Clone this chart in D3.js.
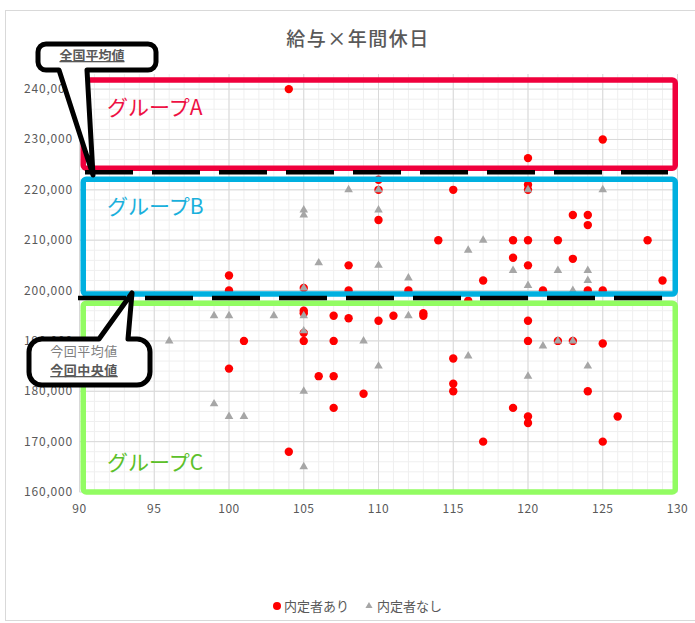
<!DOCTYPE html>
<html>
<head>
<meta charset="utf-8">
<script src="https://cdn.jsdelivr.net/npm/d3@7"></script>
<style>
  body { margin: 0; background: #fff; }
  svg { font-family: "Noto Sans CJK JP", "Noto Sans", sans-serif; }
</style>
</head>
<body>
<div class="chart"></div>
<script>
// data
var offerX = [104,125,120,110,110,115,120,120,110,123,124,124,114,119,120,122,128,119,123,120,108,100,117,129,100,105,108,112,121,124,125,116,
  105,105,105,105,107,108,110,111,113,113,120,101,107,120,122,123,125,115,100,106,107,115,115,124,109,107,119,126,120,120,117,125,104];
var offerY = [240000,230000,226300,222000,220000,220000,221000,220000,214000,215000,215000,213000,210000,210000,210000,210000,210000,206500,206300,205000,205000,203000,202000,202000,200000,200500,200000,200000,200000,200000,200000,198000,
  196000,195500,191600,190000,195000,194500,194000,195000,195500,195000,194000,190000,190000,190000,190000,190000,189500,186500,184500,183000,183000,181500,180000,180000,179500,176700,176700,175000,175000,173700,170000,170000,168000];

var noOfferX = [110,120,125,108,105,105,110,106,110,117,116,119,122,124,112,124,120,123,105,99,100,103,105,112,105,96,109,122,123,121,116,110,124,120,105,99,100,101,105];
var noOfferY = [220000,220000,220000,220000,216000,215000,216000,205500,205000,210000,208000,204000,204000,204000,202500,202000,201000,200000,200500,195000,195000,195000,195000,195000,192000,190000,190000,190000,190000,189000,187000,185000,185000,183000,180000,177500,175000,175000,165000];

var xTicks = [90,95,100,105,110,115,120,125,130];
var yTicks = [160000,170000,180000,190000,200000,210000,220000,230000,240000];

var groupNames = ["グループA","グループB","グループC"];
var groupTop = [241800,222100,197500];
var groupBottom = [224300,199300,160000];
var nationalAvg = 223500;
var thisAvg = 198500;

var title = "給与×年間休日";
var seriesNames = ["内定者あり","内定者なし"];

///////////////////////////////////////////

var width = 695;
var height = 623;

var x = d3.scaleLinear().domain([90,130]).range([79.5,677.5]);
var y = d3.scaleLinear().domain([160000,243000]).range([492,74]);

var svg = d3.select(".chart").append("svg")
    .attr("width", width)
    .attr("height", height);

// chart frame
svg.append("rect")
    .attr("x", 5.5).attr("y", 10.5)
    .attr("width", 720).attr("height", 610)
    .attr("fill", "#fff")
    .attr("stroke", "#d9d9d9");

svg.append("text")
    .attr("x", 358).attr("y", 46)
    .attr("text-anchor", "middle")
    .attr("font-size", 19)
    .attr("font-weight", 500)
    .attr("letter-spacing", 1.5)
    .attr("fill", "#595959")
    .text(title);

// grid
var grid = svg.append("g");
grid.selectAll(".mx").data(d3.range(90,131,1)).enter().append("line")
    .attr("x1", d => x(d)).attr("x2", d => x(d))
    .attr("y1", y(160000)).attr("y2", y(243000))
    .attr("stroke", "#efefef");
grid.selectAll(".my").data(d3.range(160000,243001,2000)).enter().append("line")
    .attr("x1", x(90)).attr("x2", x(130))
    .attr("y1", d => y(d)).attr("y2", d => y(d))
    .attr("stroke", "#efefef");
grid.selectAll(".gx").data(xTicks).enter().append("line")
    .attr("x1", d => x(d)).attr("x2", d => x(d))
    .attr("y1", y(160000)).attr("y2", y(243000))
    .attr("stroke", "#d9d9d9");
grid.selectAll(".gy").data(yTicks).enter().append("line")
    .attr("x1", x(90)).attr("x2", x(130))
    .attr("y1", d => y(d)).attr("y2", d => y(d))
    .attr("stroke", "#d9d9d9");

// axis labels
svg.append("g").selectAll("text").data(yTicks).enter().append("text")
    .attr("x", 73).attr("y", d => y(d) + 4)
    .attr("text-anchor", "end")
    .attr("font-size", 12)
    .attr("letter-spacing", 0.8)
    .attr("fill", "#595959")
    .text(d3.format(","));
svg.append("g").selectAll("text").data(xTicks).enter().append("text")
    .attr("x", d => x(d)).attr("y", 513)
    .attr("text-anchor", "middle")
    .attr("font-size", 12)
    .attr("letter-spacing", 0.5)
    .attr("fill", "#595959")
    .text(d => d);

// points
svg.append("g").selectAll("circle").data(offerX).enter().append("circle")
    .attr("cx", d => x(d))
    .attr("cy", (d,i) => y(offerY[i]))
    .attr("r", 4.2)
    .attr("fill", "#ff0000");

var tri = d3.symbol().type(d3.symbolTriangle).size(32);
svg.append("g").selectAll("path").data(noOfferX).enter().append("path")
    .attr("d", tri)
    .attr("transform", (d,i) => "translate(" + x(d) + "," + y(noOfferY[i]) + ")")
    .attr("fill", "#a6a6a6");

// group boxes
var boxColor = ["#f0003c","#00b0e0","#92fc62"];
var textColor = ["#ee1144","#1ab0dc","#5cc02a"];
svg.append("g").selectAll("rect").data(groupNames).enter().append("rect")
    .attr("x", x(90.25))
    .attr("y", (d,i) => y(groupTop[i]))
    .attr("width", x(129.85) - x(90.25))
    .attr("height", (d,i) => y(groupBottom[i]) - y(groupTop[i]))
    .attr("rx", 3)
    .attr("fill", "none")
    .attr("stroke", (d,i) => boxColor[i])
    .attr("stroke-width", 5.5);

svg.append("g").selectAll("text").data(groupNames).enter().append("text")
    .attr("x", 107)
    .attr("y", (d,i) => [115, 214, 470][i])
    .attr("font-size", 21)
    .attr("fill", (d,i) => textColor[i])
    .text(d => d);

// average lines
svg.append("line")
    .attr("x1", 85).attr("x2", 668)
    .attr("y1", y(nationalAvg)).attr("y2", y(nationalAvg))
    .attr("stroke", "#000").attr("stroke-width", 4.5)
    .attr("stroke-dasharray", "48,19");
svg.append("line")
    .attr("x1", 78).attr("x2", 662)
    .attr("y1", y(thisAvg)).attr("y2", y(thisAvg))
    .attr("stroke", "#000").attr("stroke-width", 4.5)
    .attr("stroke-dasharray", "48,19");

// callouts
function callout(x0, y0, x1, y1, r, tail) {
  var p = d3.path();
  p.moveTo(x0 + r, y0);
  if (tail.side == "top") {
    p.lineTo(tail.a, y0); p.lineTo(tail.tx, tail.ty); p.lineTo(tail.b, y0);
  }
  p.lineTo(x1 - r, y0);
  p.arcTo(x1, y0, x1, y0 + r, r);
  p.lineTo(x1, y1 - r);
  p.arcTo(x1, y1, x1 - r, y1, r);
  if (tail.side == "bottom") {
    p.lineTo(tail.b, y1); p.lineTo(tail.tx, tail.ty); p.lineTo(tail.a, y1);
  }
  p.lineTo(x0 + r, y1);
  p.arcTo(x0, y1, x0, y1 - r, r);
  p.lineTo(x0, y0 + r);
  p.arcTo(x0, y0, x0 + r, y0, r);
  p.closePath();
  return p.toString();
}

svg.append("path")
    .attr("d", callout(38, 44, 156, 70, 8, {side: "bottom", a: 59, b: 87, tx: 93, ty: 175}))
    .attr("fill", "#fff").attr("stroke", "#000").attr("stroke-width", 5)
    .attr("stroke-linejoin", "round");
svg.append("text")
    .attr("x", 92).attr("y", 60)
    .attr("text-anchor", "middle")
    .attr("font-size", 13).attr("font-weight", "bold")
    .attr("fill", "#595959")
    .attr("text-decoration", "underline")
    .text("全国平均値");

svg.append("path")
    .attr("d", callout(29, 339, 150, 385, 13, {side: "top", a: 99, b: 128, tx: 132, ty: 293}))
    .attr("fill", "#fff").attr("stroke", "#000").attr("stroke-width", 5)
    .attr("stroke-linejoin", "round");
svg.append("text")
    .attr("x", 84).attr("y", 356)
    .attr("text-anchor", "middle")
    .attr("font-size", 13)
    .attr("letter-spacing", 0.5)
    .attr("fill", "#7f7f7f")
    .text("今回平均値");
svg.append("text")
    .attr("x", 84).attr("y", 375)
    .attr("text-anchor", "middle")
    .attr("font-size", 13).attr("font-weight", "bold")
    .attr("letter-spacing", 0.5)
    .attr("fill", "#595959")
    .attr("text-decoration", "underline")
    .text("今回中央値");

// legend
var legend = svg.append("g");
legend.append("circle").attr("cx", 277).attr("cy", 606).attr("r", 4).attr("fill", "#ff0000");
legend.append("text").attr("x", 284).attr("y", 611)
    .attr("font-size", 13).attr("fill", "#595959").text(seriesNames[0]);
legend.append("path").attr("d", d3.symbol().type(d3.symbolTriangle).size(22))
    .attr("transform", "translate(369,606)").attr("fill", "#a6a6a6");
legend.append("text").attr("x", 377).attr("y", 611)
    .attr("font-size", 13).attr("fill", "#595959").text(seriesNames[1]);
</script>
</body>
</html>
